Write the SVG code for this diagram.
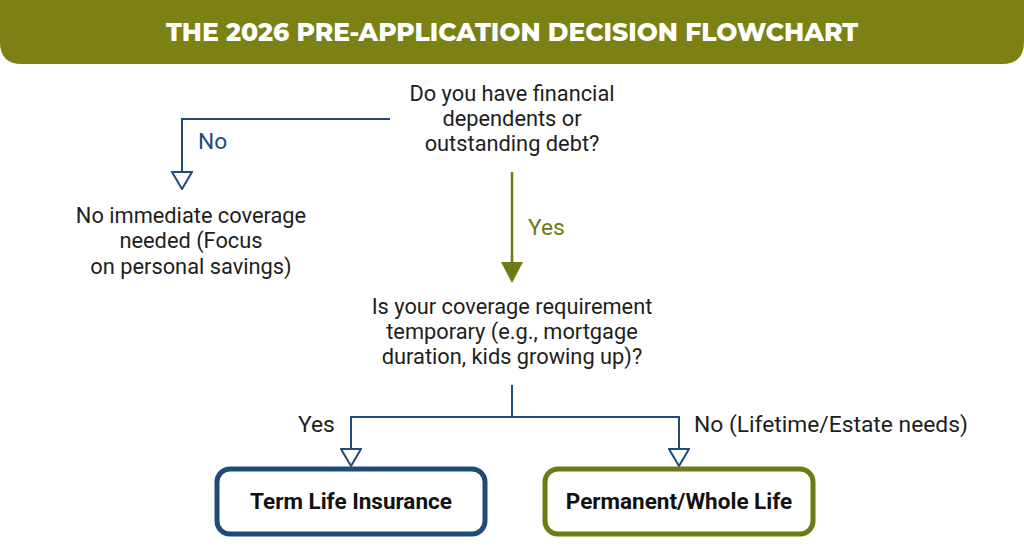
<svg xmlns="http://www.w3.org/2000/svg" width="1024" height="559" viewBox="0 0 1024 559">
<defs>
<style>
.q{font-family:Roboto,"Liberation Sans",sans-serif;font-size:21.8px;fill:#1e1e1e;text-anchor:middle}
.lbl{font-family:Roboto,"Liberation Sans",sans-serif;font-size:22.8px}
.box{fill:#fff;stroke-width:5}
.bt{font-family:Roboto,"Liberation Sans",sans-serif;font-size:22.5px;font-weight:bold;fill:#111;text-anchor:middle}
.navy{stroke:#1f4a7a;stroke-width:2;fill:none}
</style>
<marker id="hollow" viewBox="0 0 19 22" refX="18" refY="11" markerWidth="19" markerHeight="22" markerUnits="userSpaceOnUse" orient="auto">
<path d="M1,1 L18,11 L1,21 Z" fill="#fff" stroke="#1f4a7a" stroke-width="2"/>
</marker>
</defs>
<rect width="1024" height="559" fill="#fff"/>
<g id="header">
<path d="M0,0 H1024 V42 Q1024,64 1002,64 H22 Q0,64 0,42 Z" fill="#7b8115"/>
<text x="512" y="41" font-family="Montserrat,'Open Sans','Liberation Sans',sans-serif" font-size="25" font-weight="800" fill="#fff" text-anchor="middle">THE 2026 PRE-APPLICATION DECISION FLOWCHART</text>
</g>
<g id="connectors">
<path class="navy" d="M390,119 H182 V189" marker-end="url(#hollow)"/>
<line x1="512" y1="172" x2="512" y2="262" stroke="#6f7a14" stroke-width="2.5"/>
<path d="M501,262 L523,262 L512,283 Z" fill="#6f7a14"/>
<path class="navy" d="M512,385 V417 H351 V466" marker-end="url(#hollow)"/>
<path class="navy" d="M512,417 H679 V466" marker-end="url(#hollow)"/>
<text class="lbl" x="198" y="149" fill="#1f4a7a">No</text>
<text class="lbl" x="528" y="235" fill="#6f7a14">Yes</text>
<text class="lbl" x="298" y="432" fill="#1e1e1e">Yes</text>
<text class="lbl" x="694" y="432" fill="#1e1e1e">No (Lifetime/Estate needs)</text>
</g>
<g id="q1">
<text class="q" x="512" y="101">Do you have financial</text>
<text class="q" x="512" y="126">dependents or</text>
<text class="q" x="512" y="151">outstanding debt?</text>
</g>
<g id="no-coverage">
<text class="q" x="191" y="223">No immediate coverage</text>
<text class="q" x="191" y="248">needed (Focus</text>
<text class="q" x="191" y="274">on personal savings)</text>
</g>
<g id="q2">
<text class="q" x="512" y="314">Is your coverage requirement</text>
<text class="q" x="512" y="339">temporary (e.g., mortgage</text>
<text class="q" x="512" y="364">duration, kids growing up)?</text>
</g>
<g id="term">
<rect class="box" x="217" y="469" width="268" height="65" rx="13" stroke="#1f4a7a"/>
<text class="bt" x="351" y="509">Term Life Insurance</text>
</g>
<g id="permanent">
<rect class="box" x="545" y="469" width="268" height="65" rx="13" stroke="#6f7a14"/>
<text class="bt" x="679" y="509">Permanent/Whole Life</text>
</g>
</svg>
